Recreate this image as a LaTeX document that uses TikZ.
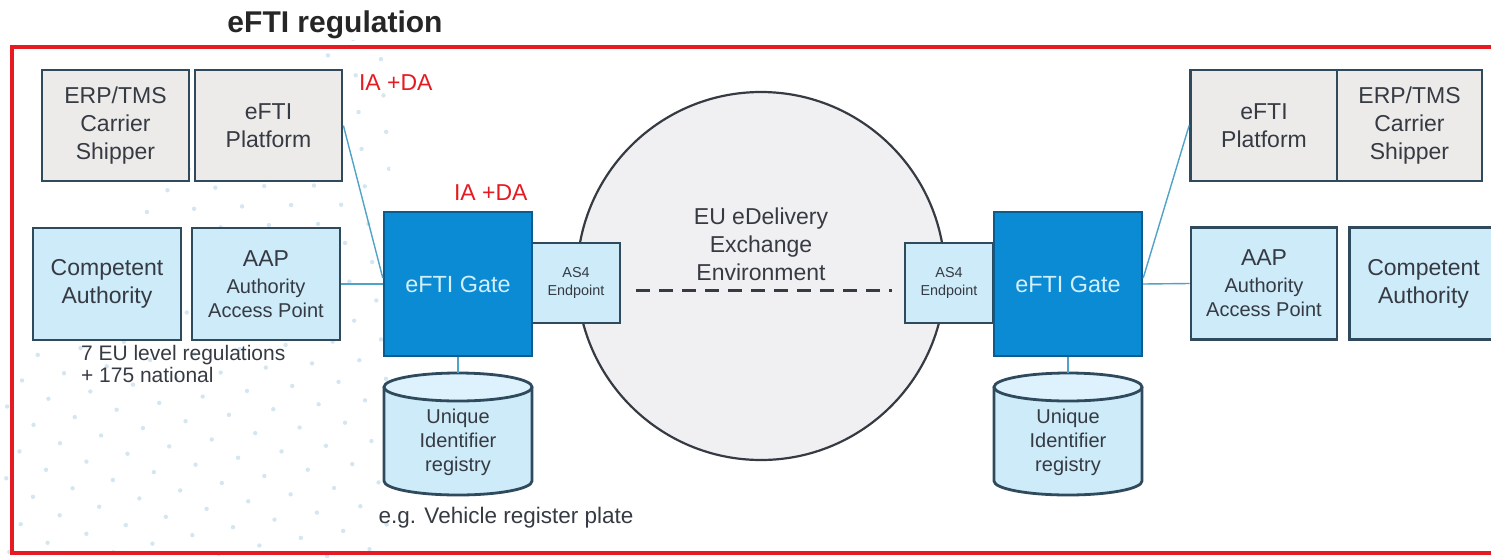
\documentclass[tikz,border=0pt]{standalone}
\usepackage{fontspec}
\setmainfont{Liberation Sans}
\definecolor{redframe}{HTML}{E51A22}
\definecolor{boxline}{HTML}{2E4A5C}
\definecolor{greybox}{HTML}{ECEBEA}
\definecolor{paleblue}{HTML}{CDEBF9}
\definecolor{paletop}{HTML}{DDF2FC}
\definecolor{gateblue}{HTML}{0A8BD4}
\definecolor{gateline}{HTML}{0B5C8E}
\definecolor{gatetext}{HTML}{D2F0FC}
\definecolor{wireblue}{HTML}{4FA3C7}
\definecolor{ink}{HTML}{363A42}
\definecolor{dotblue}{HTML}{D3E6F2}
\definecolor{eugrey}{HTML}{F0F0F2}
\begin{document}
\begin{tikzpicture}[x=0.5pt,y=-0.5pt,
  box/.style={draw=boxline, line width=1.4pt, inner sep=0pt, align=center, text=ink, font=\fontsize{11.5}{14}\selectfont},
  platbox/.style={box, fill=greybox, minimum width=73.5pt, minimum height=55.5pt},
  authbox/.style={box, fill=paleblue, minimum width=74pt, minimum height=56pt},
  gatebox/.style={draw=gateline, line width=1.2pt, fill=gateblue, text=gatetext, inner sep=0pt, minimum width=74pt, minimum height=72pt, font=\fontsize{11.7}{14}\selectfont},
  epbox/.style={box, fill=paleblue, minimum width=44pt, minimum height=40pt, font=\fontsize{7.2}{9}\selectfont},
  dbtext/.style={align=center, text=ink, font=\fontsize{10}{12}\selectfont},
  iada/.style={anchor=west, text=redframe, font=\fontsize{11.5}{14}\selectfont},
  note/.style={text=ink, font=\fontsize{10.5}{11}\selectfont},
  wire/.style={draw=wireblue, line width=0.7pt}]
\useasboundingbox (0,0) rectangle (1491,557);
% faint dots in the background
\begin{scope}
\clip (0,40) rectangle (390,557);
\foreach \r in {380,412,...,1020}
\draw[dotblue, line width=2.2pt, line cap=round, dash pattern=on 0pt off 15pt] (900,900) circle (\r);
\end{scope}
\node[font=\bfseries\fontsize{15}{18}\selectfont, text=black!85] (title) at (335,25) {eFTI regulation};
\draw[redframe, line width=1.6pt] (12,47) rectangle (1510,553);
% the exchange environment
\node[circle, draw=ink, line width=1.1pt, fill=eugrey, minimum size=184pt] (eu) at (761,276) {};
\node[box, draw=none, fill=none] (eutext) at (761,244) {EU eDelivery\\Exchange\\Environment};
% left side
\node[platbox] (erpL) at (115.5,125.5) {ERP/TMS\\Carrier\\Shipper};
\node[platbox] (platL) at (268.5,125.5) {eFTI\\Platform};
\node[authbox] (compL) at (107,284) {Competent\\Authority};
\node[authbox, font=\fontsize{10}{12}\selectfont] (aapL) at (266,284) {{\fontsize{11.5}{13}\selectfont AAP}\\[1.5pt]Authority\\Access Point};
% right side
\node[platbox] (platR) at (1264,125.5) {eFTI\\Platform};
\node[platbox, minimum width=72.5pt] (erpR) at (1409.5,125.5) {ERP/TMS\\Carrier\\Shipper};
\node[authbox, minimum width=73pt, font=\fontsize{10}{12}\selectfont] (aapR) at (1264,283.5) {{\fontsize{11.5}{13}\selectfont AAP}\\[1.5pt]Authority\\Access Point};
\node[authbox] (compR) at (1423.5,283.5) {Competent\\Authority};
% gates, endpoints and registries, edit here for the two sides
\foreach \s/\gx/\ex in {L/458/576, R/1068/949}{
\node[epbox] (ep\s) at (\ex,283) {AS4\\Endpoint};
\node[gatebox] (gate\s) at (\gx,284) {eFTI Gate};
\draw[boxline, line width=1.4pt, fill=paleblue] (\gx-74,387) -- (\gx-74,481) arc[start angle=180, end angle=0, x radius=74, y radius=14] -- (\gx+74,387);
\draw[boxline, line width=1.4pt, fill=paletop] (\gx,387) ellipse [x radius=74, y radius=14];
\coordinate (top\s) at (\gx,373);
\node[dbtext] (db\s) at (\gx,442) {Unique\\Identifier\\registry};
\draw[wire] (gate\s.south) -- (top\s);
}
\draw[ink, line width=1.5pt, dash pattern=on 7pt off 4.5pt, shorten <=7.5pt, shorten >=6pt] ([yshift=-3.5pt]epL.east) -- ([yshift=-3.5pt]epR.west);
% connectors
\draw[wire] (platL.east) -- ([yshift=3pt]gateL.west);
\draw[wire] (aapL.east) -- (gateL.west);
\draw[wire] ([yshift=3pt]gateR.east) -- (platR.west);
\draw[wire] (gateR.east) -- (aapR.west);
% labels
\node[iada] (iada1) at (352,83) {IA +DA};
\node[iada] (iada2) at (447,193) {IA +DA};
\node[note, anchor=west, align=left] (regs) at (74,364) {7 EU level regulations\\+ 175 national};
\node[note, font=\fontsize{11.25}{13}\selectfont] (plate) at (506,518) {e.g. Vehicle register plate};
\end{tikzpicture}
\end{document}
